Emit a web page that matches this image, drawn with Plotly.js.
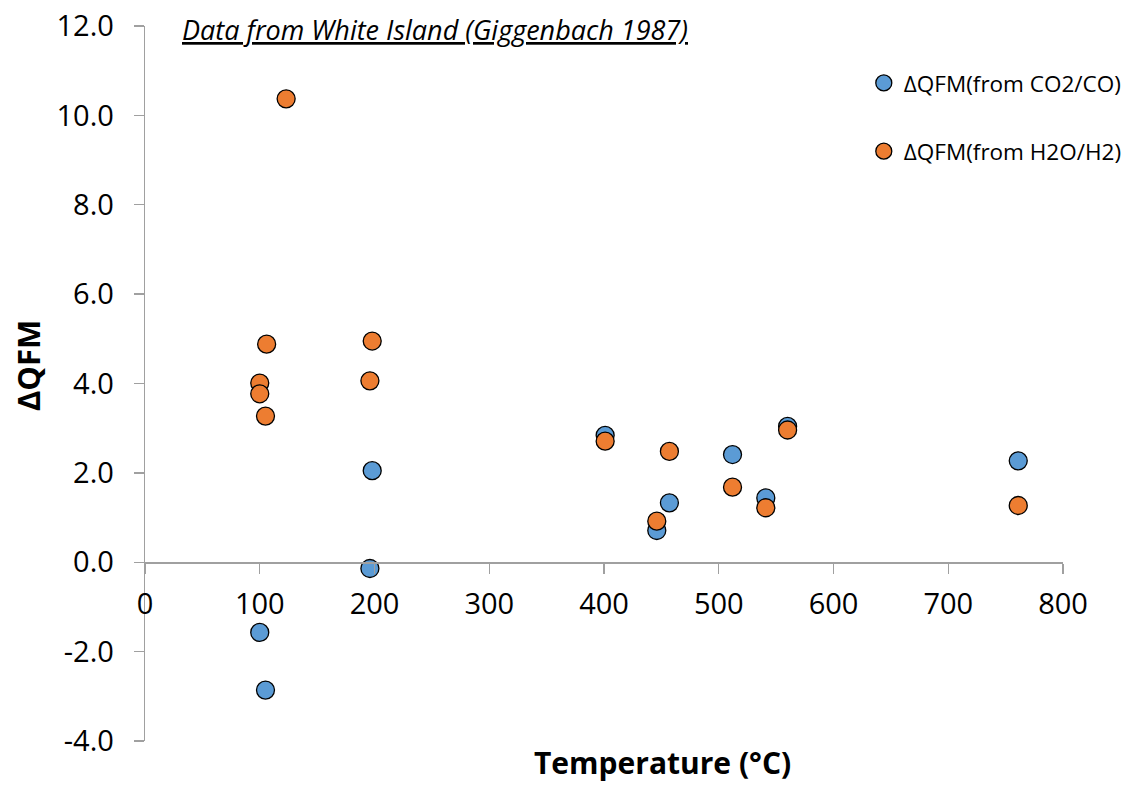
<!DOCTYPE html>
<html>
<head>
<meta charset="utf-8">
<script src="https://cdn.plot.ly/plotly-3.0.1.min.js"></script>
<style>html,body{margin:0;padding:0;background:#fff;}#chart{width:1136px;height:785px;}</style>
</head>
<body>
<div id="chart"></div>
<script>
// Data
const tempCO = [100, 105, 196, 198, 401, 446, 457, 512, 541, 560, 761];
const qfmCO  = [-1.57, -2.86, -0.14, 2.05, 2.84, 0.71, 1.33, 2.41, 1.44, 3.04, 2.27];
const tempH2 = [123, 106, 100, 100, 105, 196, 198, 401, 446, 457, 512, 541, 560, 761];
const qfmH2  = [10.37, 4.88, 4.01, 3.77, 3.27, 4.06, 4.95, 2.71, 0.92, 2.48, 1.68, 1.22, 2.96, 1.27];
const nameCO = 'ΔQFM(from CO2/CO)';
const nameH2 = 'ΔQFM(from H2O/H2)';
const xTicks = [0, 100, 200, 300, 400, 500, 600, 700, 800];
const yTicks = [-4, -2, 0, 2, 4, 6, 8, 10, 12];
const titleText = 'Data from White Island (Giggenbach 1987)';
const xTitle = 'Temperature (°C)';
const yTitle = 'ΔQFM';

const font = 'Open Sans, Noto Sans, sans-serif';
const axisColor = '#a0a0a0';

const traces = [
  {x: tempCO, y: qfmCO, name: nameCO, type: 'scatter', mode: 'markers', legendgroup: 'a',
   marker: {size: 18, color: '#5B9BD5', line: {color: '#000', width: 1.3}}},
  {x: tempH2, y: qfmH2, name: nameH2, type: 'scatter', mode: 'markers', legendgroup: 'b',
   marker: {size: 18, color: '#ED7D31', line: {color: '#000', width: 1.3}}}
];

const yMin = -4, yMax = 12;
const layout = {
  width: 1136, height: 785,
  margin: {l: 145, r: 73, t: 26, b: 44, autoexpand: false},
  paper_bgcolor: '#fff', plot_bgcolor: '#fff',
  font: {family: font, color: '#000', size: 29},
  showlegend: true,
  legend: {x: 0.783, y: 0.95, xanchor: 'left', yanchor: 'top', tracegroupgap: 36,
           font: {size: 22.5, family: font, color: '#000'}, bgcolor: 'rgba(0,0,0,0)'},
  xaxis: {range: [0, 800], tickvals: xTicks, ticktext: xTicks.map(String),
          showgrid: false, zeroline: false, showline: true, linecolor: axisColor, linewidth: 1.3,
          ticks: 'outside', ticklen: 10, tickcolor: axisColor, tickwidth: 1.3,
          anchor: 'free', position: (0 - yMin) / (yMax - yMin), ticklabelstandoff: 6,
          tickfont: {size: 29, family: font}, automargin: false},
  yaxis: {range: [yMin, yMax], tickvals: yTicks, ticktext: yTicks.map(v => v.toFixed(1)),
          showgrid: false, zeroline: false, showline: true, linecolor: axisColor, linewidth: 1.3,
          ticks: 'outside', ticklen: 10, tickcolor: axisColor, tickwidth: 1.3,
          ticklabelstandoff: 14, tickfont: {size: 29, family: font}, automargin: false},
  annotations: [
    {text: '<i><u>' + titleText + '</u></i>', xref: 'paper', yref: 'paper', x: 0.038, y: 0.995,
     xanchor: 'left', yanchor: 'middle', showarrow: false, font: {size: 27, family: font}},
    {text: '<b>' + xTitle + '</b>', xref: 'paper', yref: 'paper', x: 0.564, y: -0.0615,
     xanchor: 'center', yanchor: 'bottom', showarrow: false, font: {size: 30, family: font}},
    {text: '<b>' + yTitle + '</b>', xref: 'paper', yref: 'paper', x: -0.128, y: 0.525, textangle: -90,
     xanchor: 'center', yanchor: 'middle', showarrow: false, font: {size: 31, family: font}}
  ]
};

Plotly.newPlot('chart', traces, layout, {displayModeBar: false, staticPlot: true});
</script>
</body>
</html>
